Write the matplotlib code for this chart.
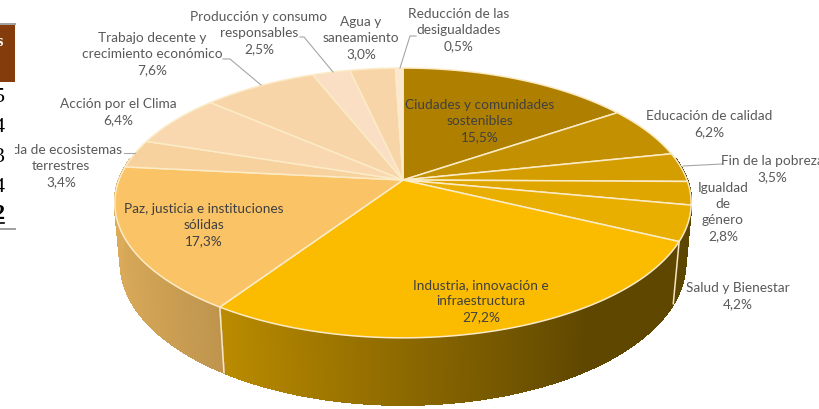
import numpy as np
import matplotlib
matplotlib.use("Agg")
import matplotlib.pyplot as plt
from matplotlib.collections import PolyCollection
from matplotlib.colors import to_rgb

plt.rcParams["font.family"] = ["Lato", "DejaVu Sans"]

# clockwise from 12 o'clock
labels = [
    "Ciudades y comunidades\nsostenibles",
    "Educación de calidad",
    "Fin de la pobreza",
    "Igualdad\nde\ngénero",
    "Salud y Bienestar",
    "Industria, innovación e\ninfraestructura",
    "Paz, justicia e instituciones\nsólidas",
    "Vida de ecosistemas\nterrestres",
    "Acción por el Clima",
    "Trabajo decente y\ncrecimiento económico",
    "Producción y consumo\nresponsables",
    "Agua y\nsaneamiento",
    "Reducción de las\ndesigualdades",
]
values = [15.5, 6.2, 3.5, 2.8, 4.2, 27.2, 17.3, 3.4, 6.4, 7.6, 2.5, 3.0, 0.5]
colors = ["#AF8000", "#C29000", "#D49E00", "#E0A600", "#E8AE00", "#FBBC00", "#FAC366",
          "#F8D29E", "#F9D8B0", "#F8D5A8", "#FADFC4", "#F8D5A8", "#FCE8D2"]
label_pos = [(480, 121), (709, 124), (772, 169), (723, 212), (738, 296), (481, 301),
             (204, 225), (61, 166), (118, 112), (152, 54), (259, 33), (361, 38), (459, 30)]
# leader lines: elbow and label end per slice
leaders = {
    2: [(722, 164), (683, 166)],
    7: [(124, 153), (135, 153)],
    9: [(223, 59), (230, 59), (261, 85)],
    10: [(300, 37), (304, 37), (333, 72)],
    12: [(416, 36), (410, 36), (400, 68)],
}

# projection of the tilted disc
CX, CY = 403, 180
A, B, K = 284, 131, 0.17
DEPTH, PERSP = 60, 0.02


def project(theta, z=0.0):
    u, v = np.sin(theta), np.cos(theta)
    w = 1 + K * v + PERSP * z
    return CX + A * u / w, CY - (B * v - DEPTH * z) / w


def side_color(base, theta):
    # wall gets darker to the right, flat after about x=560
    s = np.sin(theta)
    if base == "#FBBC00":
        f = np.clip(0.74 - 0.36 * (s + 0.55) / 1.1, 0.38, 0.74)
    elif base == "#E8AE00":
        f = 0.40
    else:
        f = 0.88 - 0.12 * (s + 1) / 0.45
    return tuple(c * f for c in to_rgb(base))


def ang(p):
    return np.deg2rad(p * 3.6)


fig = plt.figure(figsize=(8.2, 4.09), dpi=100)
ax = fig.add_axes([0, 0, 1, 1])
ax.set_xlim(0, 820)
ax.set_ylim(409, 0)
ax.axis("off")

edges = np.concatenate([[0], np.cumsum(values)])
edges = edges / edges[-1] * 100

# side wall, front part only
polys, cols = [], []
for i, base in enumerate(colors):
    t = np.linspace(ang(edges[i]), ang(edges[i + 1]), max(int(values[i] * 12), 2))
    for a, b in zip(t[:-1], t[1:]):
        if np.cos((a + b) / 2) > 0.16:
            continue
        polys.append([project(a), project(b), project(b, 1), project(a, 1)])
        cols.append(side_color(base, (a + b) / 2))
ax.add_collection(PolyCollection(polys, facecolors=cols, edgecolors=cols, linewidths=1.0,
                                 antialiaseds=False, zorder=1))

# seams on the wall
for e in edges[1:]:
    th = ang(e)
    if np.cos(th) < -0.4:
        x0, y0 = project(th)
        x1, y1 = project(th, 1)
        ax.plot([x0, x1], [y0, y1], color="#F7E7C4", lw=1.1, zorder=2)

# top face
for i, base in enumerate(colors):
    t = np.linspace(ang(edges[i]), ang(edges[i + 1]), max(int(values[i] * 4), 3))
    x, y = project(t)
    ax.fill(np.r_[CX, x], np.r_[CY, y], facecolor=base, edgecolor="#FBEBC6", lw=1.1, zorder=3,
            joinstyle="round")

for pts in leaders.values():
    ax.plot(*zip(*pts), color="#A6A6A6", lw=0.8, zorder=4)

for i, (name, val) in enumerate(zip(labels, values)):
    txt = f"{name}\n{val:.1f}%".replace(".", ",")
    color = "#404040" if i in (0, 5, 6) else "#595959"
    ax.text(*label_pos[i], txt, ha="center", va="center", fontsize=9.85, color=color,
            linespacing=1.42, zorder=5)

# cut-off table at the left edge of the page
ax.fill_between([0, 15], 0, 230, color="white", lw=0, zorder=6)
ax.fill_between([0, 15], 25, 82, color="#843C0C", lw=0, zorder=7)
ax.plot([0, 15], [24, 24], color="#A0A0A0", lw=1.4, zorder=7)
ax.plot([0, 15], [229, 229], color="#A0A0A0", lw=1.4, zorder=7)
ax.text(0, 42, "s", color="white", fontsize=12, fontweight="bold", ha="center", va="center",
        family="Liberation Serif", zorder=8)
for y, d in zip([98, 128, 158, 187], ["5", "4", "3", "4"]):
    ax.text(-1, y, d, color="black", fontsize=16, ha="center", va="center",
            family="Liberation Serif", zorder=8)
ax.text(-1, 214, "2", color="black", fontsize=16, fontweight="bold", ha="center", va="center",
        family="Liberation Serif", zorder=8)
ax.plot([0, 4], [223, 223], color="black", lw=1.2, zorder=8)

fig.savefig("out.png", dpi=100)
